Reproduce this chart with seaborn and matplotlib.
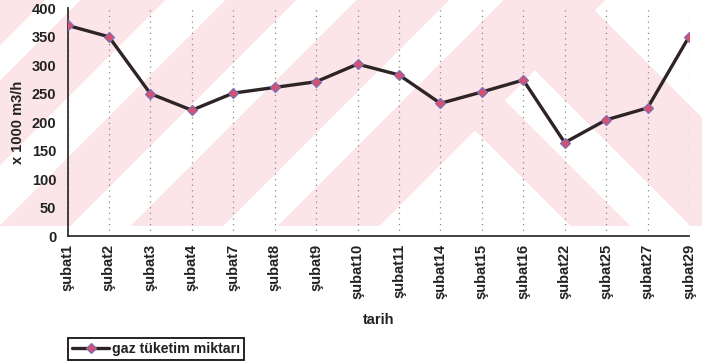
import numpy as np
import pandas as pd
import matplotlib
matplotlib.use("Agg")
import matplotlib.pyplot as plt
import seaborn as sns

# Daily gas consumption (x 1000 m3/h) for February
tarih = ["şubat1", "şubat2", "şubat3", "şubat4", "şubat7", "şubat8", "şubat9",
         "şubat10", "şubat11", "şubat14", "şubat15", "şubat16", "şubat22",
         "şubat25", "şubat27", "şubat29"]
tuketim = [370, 350, 250, 221, 251, 261, 271, 302, 283, 233, 253, 274, 164,
           204, 225, 350]
yticks = [0, 50, 100, 150, 200, 250, 300, 350, 400]

df = pd.DataFrame({"tarih": tarih, "gaz tüketim miktarı": tuketim})

sns.set_style("white")
plt.rcParams["font.family"] = ["Liberation Sans", "DejaVu Sans"]

W, H, DPI = 702, 364, 100
fig = plt.figure(figsize=(W / DPI, H / DPI), dpi=DPI, facecolor="white")

# pale striped background band
yy, xx = np.mgrid[0:H, 0:W].astype(float)
c = xx + yy
d = xx - yy
left_white = np.zeros_like(c, dtype=bool)
for lo, hi in [(45, 80), (165, 225), (296, 356), (449, 503)]:
    left_white |= (c >= lo) & (c < hi)
right_white = (d < 345) | ((d >= 405) & (d < 465)) | (d >= 585)
white = np.where(c < 605, left_white, right_white)
pink = (~white) & (yy < 226)
bg = np.ones((H, W, 4))
pink_rgb = np.array([251, 229, 232]) / 255.0
bg[pink, :3] = pink_rgb
fig.figimage(bg, xo=0, yo=0, origin="upper", zorder=-5)

ax = fig.add_axes([67.5 / W, 1 - 236 / H, 621.5 / W, 227.7 / H])
ax.set_facecolor("none")

sns.lineplot(data=df, x="tarih", y="gaz tüketim miktarı", ax=ax,
             color="#2e2426", linewidth=2.4, marker="D", markersize=5.3,
             markerfacecolor="#d9506e", markeredgecolor="#7a70b8",
             markeredgewidth=0.9, label="gaz tüketim miktarı", legend=False,
             zorder=3)

ax.set_xlim(0, len(tarih) - 1)
ax.set_ylim(0, 400)
ax.set_yticks(yticks)
ax.set_xticks(range(len(tarih)))
ax.set_xticklabels(tarih, rotation=90)

for i in range(len(tarih)):
    ax.axvline(i, color="#8a8a8a", linewidth=0.9, linestyle=(0, (1, 3.5)),
               zorder=1)

for s in ["top", "right"]:
    ax.spines[s].set_visible(False)
for s in ["left", "bottom"]:
    ax.spines[s].set_color("#333333")
    ax.spines[s].set_linewidth(1.3)

ax.tick_params(axis="y", direction="out", length=5, width=1.1,
               color="#333333", labelsize=10.5, labelcolor="#222222", pad=3)
ax.tick_params(axis="x", direction="inout", length=7, width=1.1,
               color="#333333", labelsize=10.5, labelcolor="#222222", pad=2)
for lab in ax.get_yticklabels() + ax.get_xticklabels():
    lab.set_fontweight("bold")

ax.set_ylabel("x 1000 m3/h", fontsize=10.5, fontweight="bold",
              color="#222222")
ax.set_xlabel("tarih", fontsize=10.5, fontweight="bold", color="#222222")
ax.xaxis.set_label_coords(0.5, -0.34)
ax.yaxis.set_label_coords(-0.068, 0.5)

handles, labels = ax.get_legend_handles_labels()
leg = fig.legend(handles, labels, loc="upper left",
                 bbox_to_anchor=(68 / W, 1 - 337.5 / H), borderaxespad=0,
                 frameon=True, fancybox=False, framealpha=1,
                 edgecolor="#111111", prop={"size": 10.2, "weight": "bold"},
                 handlelength=2.6, handletextpad=0.2, borderpad=0.3,
                 numpoints=1)
leg.get_frame().set_linewidth(1.3)
for t in leg.get_texts():
    t.set_color("#222222")

fig.savefig("out.png", dpi=DPI, facecolor="white")
